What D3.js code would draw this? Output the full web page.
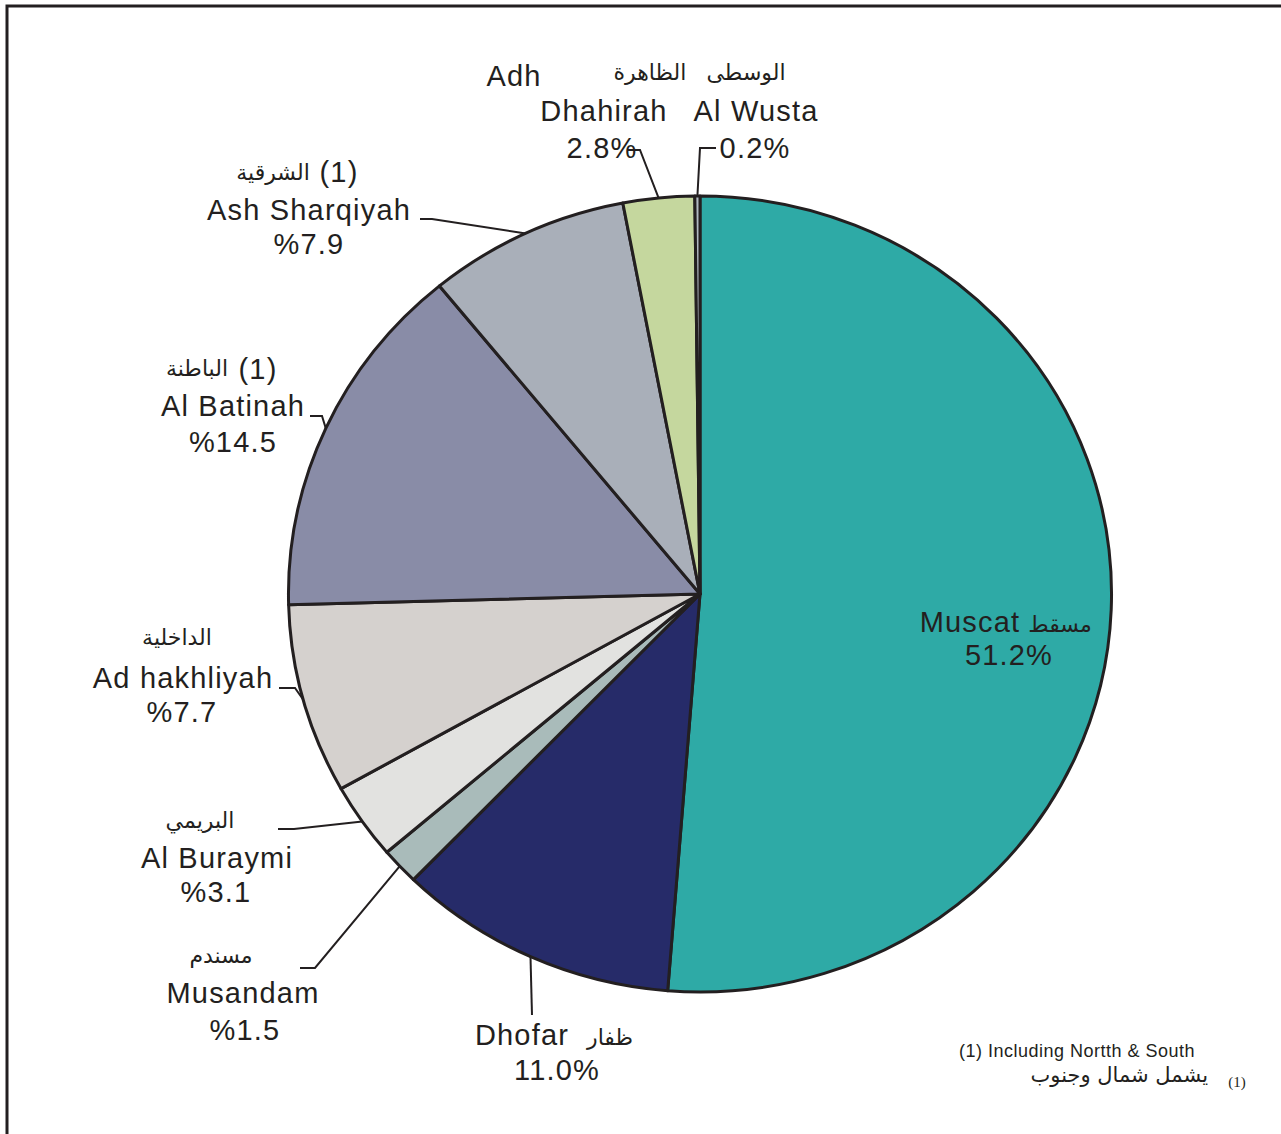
<!DOCTYPE html>
<html>
<head>
<meta charset="utf-8">
<script src="https://cdn.jsdelivr.net/npm/d3@7"></script>
<style>
  html, body { margin: 0; padding: 0; background: #fff; }
  svg text { fill: #231f20; }
  .en { font-family: "Liberation Sans", Arial, sans-serif; font-size: 29px; letter-spacing: 1.2px; }
  .ar { font-family: "DejaVu Sans", sans-serif; font-size: 22px; }
  .note { font-family: "Liberation Sans", Arial, sans-serif; font-size: 18px; letter-spacing: 0.5px; }
</style>
</head>
<body>
<svg id="chart" width="1281" height="1134"></svg>
<script>
  // regional shares (clockwise from 12 o'clock)
  var regions = ['Muscat', 'Dhofar', 'Musandam', 'Al Buraymi', 'Ad hakhliyah',
                 'Al Batinah', 'Ash Sharqiyah', 'Adh Dhahirah', 'Al Wusta'];
  var regionsAr = ['مسقط', 'ظفار', 'مسندم', 'البريمي', 'الداخلية',
                   'الباطنة', 'الشرقية', 'الظاهرة', 'الوسطى'];
  var shares = [51.2, 11.0, 1.5, 3.1, 7.7, 14.5, 7.9, 2.8, 0.2];
  var pctFirst = [false, false, true, true, true, true, true, false, false];
  var noted = [false, false, false, false, false, true, true, false, false];
  var colors = ['#2eaaa6', '#262b69', '#a9bbba', '#e2e2e0', '#d5d1ce',
                '#898ca7', '#a9afb9', '#c5d79e', '#b1b9c1'];

  var footEn = '(1) Including Nortth & South',
      footAr = 'يشمل شمال وجنوب';

  // label placement: english lines, arabic line, percent line, leader elbows
  var layout = [
    { en: [[970, 632]], ar: [1060, 632], pct: [1009, 665], lead: null },
    { en: [[522, 1045]], ar: [610, 1045], pct: [557, 1080], lead: [[532, 1015]] },
    { en: [[243, 1003]], ar: [221, 963], pct: [245, 1040], lead: [[300, 968], [315, 968]] },
    { en: [[217, 868]], ar: [200, 828], pct: [216, 902], lead: [[278, 829], [294, 829]] },
    { en: [[183, 688]], ar: [177, 645], pct: [182, 722], lead: [[279, 688], [295, 688]] },
    { en: [[233, 416]], ar: [197, 376], mark: [258, 379], pct: [233, 452], lead: [[310, 416], [322, 416]] },
    { en: [[309, 220]], ar: [273, 180], mark: [339, 182], pct: [309, 254], lead: [[420, 219], [432, 219]] },
    { en: [[514, 86], [604, 121]], split: true, ar: [650, 80], pct: [602, 158], lead: [[628, 150], [640, 150]] },
    { en: [[756, 121]], ar: [746, 80], pct: [755, 158], lead: [[716, 148], [700, 148]] }
  ];

  var cx = 700, cy = 594, r = 398, sx = 1.034;
  var ink = '#231f20';
  var fmt = d3.format('.1f');

  var svg = d3.select('#chart');

  // frame
  svg.append('path')
      .attr('d', 'M7,1134V6H1281')
      .attr('fill', 'none')
      .attr('stroke', ink)
      .attr('stroke-width', 3);

  var pie = d3.pie().sort(null).value(function (d) { return d; });
  var arcs = pie(shares);
  var arc = d3.arc().innerRadius(0).outerRadius(r);
  var rim = d3.arc().innerRadius(r).outerRadius(r);

  var g = svg.append('g')
      .attr('transform', 'translate(' + cx + ',' + cy + ') scale(' + sx + ',1)');

  g.selectAll('path.slice')
      .data(arcs)
      .enter().append('path')
      .attr('class', 'slice')
      .attr('d', arc)
      .attr('fill', function (d, i) { return colors[i]; })
      .attr('stroke', ink)
      .attr('stroke-width', 3)
      .attr('stroke-linejoin', 'round')
      .attr('vector-effect', 'non-scaling-stroke');

  // leader lines
  var line = d3.line();
  arcs.forEach(function (d, i) {
    var L = layout[i];
    if (!L.lead) return;
    var c = rim.centroid(d);
    var pts = L.lead.concat([[cx + c[0] * sx, cy + c[1]]]);
    svg.append('path')
        .attr('d', line(pts))
        .attr('fill', 'none')
        .attr('stroke', ink)
        .attr('stroke-width', 2);
  });

  // labels
  regions.forEach(function (name, i) {
    var L = layout[i];
    var words = L.split ? name.split(' ') : [name];
    L.en.forEach(function (p, k) {
      svg.append('text').attr('class', 'en')
          .attr('x', p[0]).attr('y', p[1])
          .attr('text-anchor', 'middle')
          .text(words[k]);
    });
    svg.append('text').attr('class', 'ar')
        .attr('x', L.ar[0]).attr('y', L.ar[1])
        .attr('text-anchor', 'middle')
        .text(regionsAr[i]);
    if (noted[i]) {
      svg.append('text').attr('class', 'en')
          .attr('x', L.mark[0]).attr('y', L.mark[1])
          .attr('text-anchor', 'middle')
          .text('(1)');
    }
    var v = fmt(shares[i]);
    svg.append('text').attr('class', 'en')
        .attr('x', L.pct[0]).attr('y', L.pct[1])
        .attr('text-anchor', 'middle')
        .text(pctFirst[i] ? '%' + v : v + '%');
  });

  // footnote
  svg.append('text').attr('class', 'note')
      .attr('x', 959).attr('y', 1057)
      .text(footEn);
  svg.append('text').attr('class', 'ar')
      .attr('x', 1208).attr('y', 1082)
      .attr('text-anchor', 'end')
      .style('font-size', '21px')
      .text(footAr);
  svg.append('text')
      .attr('x', 1237).attr('y', 1087)
      .attr('text-anchor', 'middle')
      .style('font-family', '"Liberation Serif", serif')
      .style('font-size', '15px')
      .text('(1)');
</script>
</body>
</html>
